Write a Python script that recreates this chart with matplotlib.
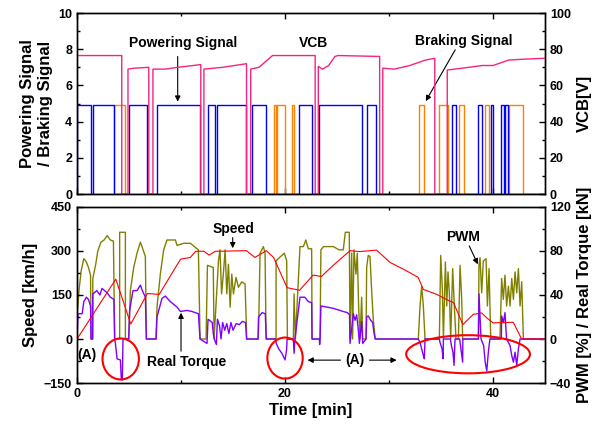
import matplotlib
matplotlib.use('Agg')
import matplotlib.pyplot as plt
from matplotlib.patches import Ellipse
from matplotlib.ticker import MultipleLocator

plt.rcParams['font.family'] = ['Liberation Sans', 'DejaVu Sans']
plt.rcParams['font.weight'] = 'bold'
plt.rcParams['axes.labelweight'] = 'bold'

# ---- top panel data (time in min) ----
powering_on = [(0, 1.35), (1.5, 3.6), (5.0, 6.7), (7.7, 11.8), (12.6, 13.3),
               (13.5, 16.2), (16.8, 18.2), (21.35, 22.6), (23.3, 27.4),
               (27.9, 28.75), (36.1, 36.4), (38.6, 38.9), (39.8, 40.0),
               (40.8, 41.1), (41.2, 41.4)]
braking_on = [(3.6, 4.6), (18.9, 19.1), (19.2, 20.0), (20.7, 20.9),
              (32.9, 33.4), (34.8, 35.7), (36.7, 37.2), (39.2, 39.6),
              (41.5, 42.9)]
signal_level = 4.9

vcb_t = [0, 4.3, 4.3, 4.9, 4.9, 5.5, 6.9, 6.9, 7.3, 7.3, 8.5, 9.7, 11.9, 11.9,
         12.2, 12.2, 14.0, 16.3, 16.3, 16.7, 16.7, 17.5, 18.3, 18.8, 22.9, 22.9,
         23.2, 23.2, 23.6, 24.2, 24.8, 25.1, 29.1, 29.1, 29.4, 29.4, 30.5, 32.0,
         33.5, 34.4, 34.4, 35.6, 35.6, 37.0, 39.0, 40.0, 41.5, 43.0, 45.0]
vcb_v = [76.5, 76.5, 0, 0, 69, 69.5, 70, 0, 0, 69, 69, 70, 71.5, 0,
         0, 69, 70, 72, 0, 0, 69, 70, 74, 76.5, 76.5, 0,
         0, 70.5, 69, 71, 76, 76.5, 76, 0, 0, 69.5, 69, 71,
         74, 75, 0, 0, 68.5, 69.5, 71, 71, 74, 74.5, 75]

# ---- bottom panel data ----
speed_t = [0, 3.73, 5.17, 6.76, 7.9, 9.95, 10.9, 11.4, 12.2, 12.7, 13.3, 16.3,
           17.1, 18.2, 18.9, 20.2, 21.4, 22.7, 23.5, 24.6, 26.25, 27.2, 28.8,
           30.1, 31.7, 32.8, 33.3, 34.6, 35.5, 36.2, 37.1, 38.1, 38.9, 39.4,
           40.0, 41.95, 42.75, 45.0]
speed_v = [0, 204, 51, 155, 152, 272, 278, 299, 299, 286, 299, 301,
           278, 301, 278, 175, 166, 218, 213, 250, 301, 298, 303,
           261, 232, 210, 169, 152, 135, 124, 49, 84, 89, 72,
           55, 57, 0, 0]

pwm_t = [0, 0.2, 0.4, 0.65, 0.9, 1.1, 1.3, 1.35, 1.5, 1.52, 1.8, 2.0, 2.3, 2.6,
         2.9, 3.2, 3.5, 3.62, 4.1, 4.1, 4.65, 4.65, 4.97, 5.13, 5.45, 5.77,
         6.09, 6.25, 6.57, 6.67, 7.6, 7.69, 8.01, 8.33, 8.65, 9.46, 9.62,
         9.94, 10.26, 10.9, 11.67, 11.83, 12.41, 12.54, 13.1, 13.18, 13.6,
         13.75, 13.9, 14.07, 14.24, 14.4, 14.56, 14.72, 14.88, 15.04, 15.29,
         15.52, 15.84, 16.16, 16.32, 17.44, 17.6, 17.92, 18.08, 18.18, 19.14,
         19.14, 19.46, 19.94, 20.16, 20.23, 20.8, 20.87, 21.0, 21.44, 21.76,
         22.0, 22.24, 22.56, 22.6, 23.37, 23.45, 23.7, 24.65, 25.2, 25.6,
         25.8, 26.18, 26.25, 26.41, 26.5, 26.63, 26.82, 26.95, 27.08, 27.21,
         27.37, 27.47, 27.79, 27.85, 28.0, 28.17, 28.33, 28.49, 28.68,
         32.82, 32.98, 33.14, 33.3, 33.46, 34.84, 34.97, 35.13, 35.23, 35.42,
         35.55, 35.67, 35.8, 35.93, 36.12, 36.28, 36.44, 36.67, 36.83, 36.99,
         37.08, 38.59, 38.65, 38.75, 38.91, 39.07, 39.33, 39.46, 39.62, 39.78,
         40.67, 40.83, 40.99, 41.15, 41.31, 41.48, 41.64, 41.8, 41.96, 42.12,
         42.28, 42.44, 42.6, 42.76, 42.92, 45.0]
pwm_v = [20, 45, 62, 73, 70, 65, 58, 0, 0, 55, 68, 80, 88, 90,
         94, 90, 89, 0, 0, 97, 97, 0, 0, 44, 65, 78,
         88, 84, 75, 0, 0, 29, 59, 81, 90, 90, 85,
         86, 87, 87, 81, 0, 0, 67, 65, 0, 71,
         81, 41, 59, 81, 41, 68, 29, 59, 41, 56,
         47, 52, 50, 0, 0, 78, 84, 78, 0, 0,
         71, 74, 78, 71, 0, 0, 41, 0, 84, 84,
         90, 82, 82, 0, 0, 81, 84, 84, 81, 81,
         97, 97, 0, 78, 0, 81, 59, 78, 29, 0,
         38, 0, 0, 65, 76, 75, 44, 17, 0,
         0, 30, 48, 30, 0, 0, 76, 45, 0, 70,
         30, 61, 42, 0, 64, 30, 0, 0, 67, 36,
         0, 0, 67, 74, 42, 71, 73, 30, 64, 0,
         0, 55, 36, 58, 30, 48, 30, 55, 36, 61,
         42, 64, 30, 52, 0, 0]

torque_t = [0, 0.1, 0.5, 0.65, 0.9, 1.1, 1.3, 1.35, 1.5, 1.52, 1.9, 2.2, 2.4,
            2.9, 3.2, 3.55, 3.62, 3.69, 3.85, 4.17, 4.26, 4.36, 4.42, 4.97,
            5.06, 5.38, 5.77, 6.09, 6.28, 6.57, 6.67, 7.6, 7.69, 8.17, 8.49,
            8.97, 9.62, 9.94, 10.58, 11.06, 11.67, 11.83, 12.5, 12.6, 13.0,
            13.1, 13.2, 13.4, 13.5, 13.7, 13.85, 14.0, 14.2, 14.4, 14.6, 14.8,
            15.0, 15.3, 15.6, 15.9, 16.2, 16.3, 17.4, 17.45, 17.8, 18.1, 18.2,
            19.1, 19.15, 19.4, 19.7, 20.0, 20.15, 20.2, 20.8, 20.87, 20.95,
            21.44, 21.9, 22.24, 22.56, 22.6, 23.3, 23.33, 23.37, 23.45, 24.6,
            25.6, 26.0, 26.2, 26.25, 26.57, 26.73, 26.89, 27.05, 27.15, 27.37,
            27.47, 27.79, 27.85, 28.0, 28.24, 28.43, 28.56, 28.68,
            32.82, 32.98, 33.14, 33.3, 33.4, 33.46, 34.84, 34.9, 35.1, 35.2,
            35.23, 35.9, 36.0, 36.15, 36.25, 36.35, 36.8, 36.83, 37.0, 37.08,
            37.1, 38.6, 38.65, 38.75, 38.85, 39.1, 39.25, 39.4, 39.55, 39.7,
            40.8, 40.83, 41.0, 41.15, 41.3, 41.64, 41.8, 41.96, 42.12, 42.28,
            42.44, 42.6, 45.0]
torque_v = [0, 23, 23, 34, 38, 36, 30, 0, 0, 41, 44, 40, 46,
            42, 38, 36, 0, -4, -18, -19, -37, -37, 0, 0,
            26, 44, 44, 49, 44, 38, 0, 0, 20, 37, 39,
            34, 29, 25, 26, 25, 23, 0, -4, 18, 15,
            5, 0, -5, 18, 12, 0, 15, 8, 14, 5, 15,
            8, 14, 13, 16, 15, 0, 0, 20, 24, 23, 0,
            0, -4, -9, -13, -19, -10, 0, 0, -13, 0,
            38, 38, 34, 33, 0, 0, -5, 0, 30, 28,
            25, 24, 22, -4, 23, 17, 22, 8, -4, 16,
            -4, 0, 20, 21, 17, 15, 5, 0,
            0, -3, -9, -15, -18, 0, 0, -3, -9, -18,
            0, 0, -6, -12, -24, 0, 0, -3, -15, -21,
            0, 0, 41, 21, 0, -6, -21, -29, -12, 0,
            0, 21, 15, 24, 0, -6, -15, -21, -12, -24,
            -9, 0, 0]


def step_wave(intervals, level, t_end=45):
    t, y = [0], [0]
    for s, e in intervals:
        t += [s, s, e, e]
        y += [0, level, level, 0]
    t.append(t_end)
    y.append(0)
    return t, y


fig = plt.figure(figsize=(5.98, 4.28), dpi=100)
L, W = 0.1288, 0.7826
ax1 = fig.add_axes([L, 0.5467, W, 0.4229])
ax2 = fig.add_axes([L, 0.1051, W, 0.4113])
ax1r = ax1.twinx()
ax2r = ax2.twinx()

# ---- top panel ----
pt, pv = step_wave(powering_on, signal_level)
bt, bv = step_wave(braking_on, signal_level)
ax1.plot(bt, bv, color='#FF8000', lw=1.0, zorder=2)
ax1.plot(pt, pv, color='#0000FF', lw=1.0, zorder=3)
ax1r.plot(vcb_t, vcb_v, color='#F5247F', lw=1.0)

ax1.set_xlim(0, 45)
ax1.set_ylim(0, 10)
ax1r.set_ylim(0, 100)
ax1.set_ylabel('Powering Signal\n/ Braking Signal', fontsize=12, labelpad=4)
ax1r.set_ylabel('VCB[V]', fontsize=12, labelpad=4)
ax1.yaxis.set_major_locator(MultipleLocator(2))
ax1.yaxis.set_minor_locator(MultipleLocator(1))
ax1r.yaxis.set_major_locator(MultipleLocator(20))
ax1r.yaxis.set_minor_locator(MultipleLocator(10))
ax1.tick_params(labelbottom=False)

ax1.text(10.2, 8.33, 'Powering Signal', ha='center', va='center', fontsize=10)
ax1.annotate('', xy=(9.68, 4.95), xytext=(9.68, 7.75),
             arrowprops=dict(arrowstyle='-|>', color='k', lw=0.8, mutation_scale=8))
ax1.text(22.7, 8.36, 'VCB', ha='center', va='center', fontsize=10)
ax1.text(37.15, 8.47, 'Braking Signal', ha='center', va='center', fontsize=10)
ax1.annotate('', xy=(33.4, 5.0), xytext=(36.5, 8.1),
             arrowprops=dict(arrowstyle='-|>', color='k', lw=0.8, mutation_scale=8))

# ---- bottom panel ----
ax2r.plot(pwm_t, pwm_v, color='#808000', lw=1.0, zorder=2)
ax2r.plot(torque_t, torque_v, color='#8000FF', lw=1.0, zorder=3)
ax2.plot(speed_t, speed_v, color='#FF0000', lw=0.8)
ax2.set_zorder(ax2r.get_zorder() + 1)
ax2.patch.set_visible(False)

ax2.set_xlim(0, 45)
ax2.set_ylim(-150, 450)
ax2r.set_ylim(-40, 120)
ax2.set_xlabel('Time [min]', fontsize=12, labelpad=2)
ax2.set_ylabel('Speed [km/h]', fontsize=12, labelpad=4)
ax2r.set_ylabel('PWM [%] / Real Torque [kN]', fontsize=12, labelpad=4)
ax2.yaxis.set_major_locator(MultipleLocator(150))
ax2.yaxis.set_minor_locator(MultipleLocator(75))
ax2r.yaxis.set_major_locator(MultipleLocator(40))
ax2r.yaxis.set_minor_locator(MultipleLocator(20))

for a in (ax1, ax2):
    a.xaxis.set_major_locator(MultipleLocator(20))
    a.xaxis.set_minor_locator(MultipleLocator(10))
for a in (ax1, ax2, ax1r, ax2r):
    a.tick_params(which='both', direction='in', top=True, labelsize=9)
    a.tick_params(which='major', length=4, width=1)
    a.tick_params(which='minor', length=2, width=1)
    for s in a.spines.values():
        s.set_linewidth(1.0)

for cx, cy, w, h in [(4.2, -68, 3.5, 140), (20.0, -65, 3.4, 140),
                     (37.6, -52, 11.9, 130)]:
    ax2.add_patch(Ellipse((cx, cy), w, h, fill=False, edgecolor='#FF0000',
                          lw=1.5, zorder=5, clip_on=False))

ax2.text(0.9, -53, '(A)', ha='center', va='center', fontsize=10)
ax2.text(10.5, -79, 'Real Torque', ha='center', va='center', fontsize=10)
ax2.annotate('', xy=(10.0, 99), xytext=(10.0, -51),
             arrowprops=dict(arrowstyle='-|>', color='k', lw=0.8, mutation_scale=8))
ax2.text(15.03, 375, 'Speed', ha='center', va='center', fontsize=10)
ax2.annotate('', xy=(14.97, 300), xytext=(14.97, 355),
             arrowprops=dict(arrowstyle='-|>', color='k', lw=0.8, mutation_scale=8))
ax2.text(26.7, -72, '(A)', ha='center', va='center', fontsize=10)
ax2.annotate('', xy=(21.9, -72), xytext=(25.6, -72),
             arrowprops=dict(arrowstyle='-|>', color='k', lw=0.8, mutation_scale=8))
ax2.annotate('', xy=(31.0, -72), xytext=(27.85, -72),
             arrowprops=dict(arrowstyle='-|>', color='k', lw=0.8, mutation_scale=8))
ax2.text(37.15, 349, 'PWM', ha='center', va='center', fontsize=10)
ax2.annotate('', xy=(38.65, 246), xytext=(37.6, 326),
             arrowprops=dict(arrowstyle='-|>', color='k', lw=0.8, mutation_scale=8))

fig.savefig('out.png', dpi=100, facecolor='white')
